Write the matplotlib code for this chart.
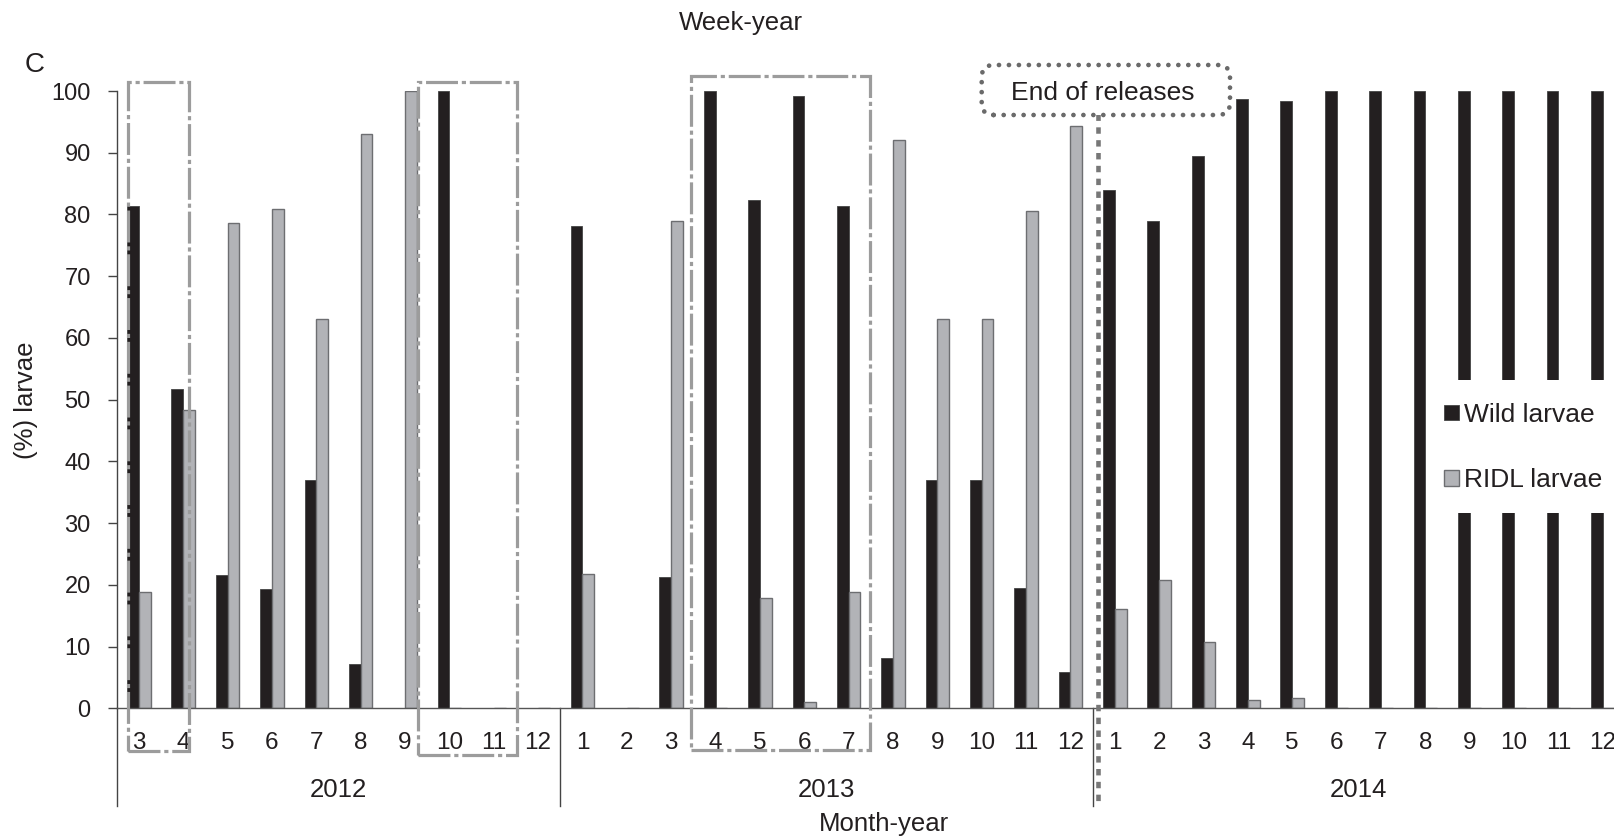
import matplotlib
matplotlib.use('Agg')
import matplotlib.pyplot as plt
import numpy as np
from matplotlib.patches import Rectangle, FancyBboxPatch

plt.rcParams['font.family'] = ['Liberation Sans', 'DejaVu Sans']

# --- data -------------------------------------------------------------
years = ['2012', '2013', '2014']
months = [
    [3, 4, 5, 6, 7, 8, 9, 10, 11, 12],
    [1, 2, 3, 4, 5, 6, 7, 8, 9, 10, 11, 12],
    [1, 2, 3, 4, 5, 6, 7, 8, 9, 10, 11, 12],
]
wild = [81.3, 51.7, 21.6, 19.3, 37.0, 7.1, 0, 100, 0, 0,
        78.2, 0, 21.2, 100, 82.3, 99.2, 81.3, 8.2, 37.0, 37.0, 19.5, 5.8,
        84.0, 79.0, 89.4, 98.7, 98.4, 100, 100, 100, 100, 100, 100, 100]
ridl = [18.8, 48.3, 78.6, 80.9, 63.0, 93.0, 100, 0, 0, 0,
        21.8, 0, 78.9, 0, 17.8, 1.1, 18.8, 92.0, 63.0, 63.0, 80.5, 94.4,
        16.1, 20.8, 10.8, 1.3, 1.7, 0, 0, 0, 0, 0, 0, 0]
# highlighted month ranges: (year, first month, last month)
highlights = [('2012', 3, 4), ('2012', 10, 11), ('2013', 4, 7)]
last_release = ('2013', 12)

# --- layout -----------------------------------------------------------
W, H = 1614, 840
fig = plt.figure(figsize=(W / 100, H / 100), dpi=100)
n = sum(len(m) for m in months)
ax = fig.add_axes([116.7 / W, 1 - 708.3 / H, n * 44.36 / W, 617.3 / H])

ink = '#231f20'
x = np.arange(n)
bw = 0.265
ax.bar(x - bw / 2, wild, bw, color=ink, edgecolor='#444444', lw=0.6,
       label='Wild larvae', zorder=2)
ax.bar(x + bw / 2, ridl, bw, color='#b2b3b7', edgecolor='#6d6e71', lw=1.0,
       label='RIDL larvae', zorder=2)

ax.set_xlim(-0.5, n - 0.5)
ax.set_ylim(0, 100)
for s in ('top', 'right'):
    ax.spines[s].set_visible(False)
ax.spines['left'].set_color('#444444')
ax.spines['left'].set_linewidth(1.0)
ax.spines['bottom'].set_color('#555555')
ax.spines['bottom'].set_linewidth(1.0)

ax.set_yticks(range(0, 101, 10))
ax.tick_params(axis='y', length=6.7, width=1.0, color='#444444', pad=12,
               labelsize=17, labelcolor=ink)
labels = [str(m) for grp in months for m in grp]
ax.set_xticks(x, labels)
ax.tick_params(axis='x', length=0, pad=17, labelsize=17.5, labelcolor=ink)

# year groups and separators
trans = ax.get_xaxis_transform()
bounds = np.concatenate([[0], np.cumsum([len(m) for m in months])]) - 0.5
for b in bounds[:-1]:
    ax.plot([b, b], [0, -0.158], transform=trans, clip_on=False,
            color='#444444', lw=1.0)
for yr, a, b in zip(years, bounds[:-1], bounds[1:]):
    ax.text((a + b) / 2, -0.1325, yr, transform=trans, ha='center',
            va='center', fontsize=18.5, color=ink)

# dashed highlight boxes
def idx(year, month):
    yi = years.index(year)
    return int(bounds[yi] + 0.5) + months[yi].index(month)

box_geom = [(-0.24, 0.13, 101.5, -6.9), (-0.71, 0.52, 101.5, -7.6),
            (-0.56, 0.48, 102.4, -6.7)]
for (yr, m0, m1), (dl, dr, top, bot) in zip(highlights, box_geom):
    left = idx(yr, m0) + dl
    right = idx(yr, m1) + dr
    ax.add_patch(Rectangle((left, bot), right - left, top - bot, fill=False,
                           ec='#9c9c9c', lw=2.3, ls=(0, (10, 1.2, 1.3, 1.2)),
                           clip_on=False, zorder=4))

# end of releases marker
xr = idx(*last_release) + 0.63
ax.plot([xr, xr], [96.2, -15.3], clip_on=False, color='#777777', lw=3.3,
        ls=(0, (1.4, 1.4)), zorder=5)
note = FancyBboxPatch((9.817, (H - 115) / 100), 2.483, 0.5,
                      boxstyle='round,pad=0,rounding_size=0.12',
                      transform=fig.dpi_scale_trans, fc='white', ec='#6a6a6a',
                      lw=3.4, ls=(0, (0.01, 2.1)), capstyle='round', zorder=6)
fig.patches.append(note)
fig.text(1103 / W, 1 - 92.7 / H, 'End of releases', ha='center', va='center',
         fontsize=19, color=ink, zorder=7)

# legend on a white patch that hides the bars behind it
ax.add_patch(Rectangle((1427 / W, 1 - 513 / H), (W - 1427) / W, 133 / H,
                       transform=fig.transFigure, clip_on=False,
                       fc='white', ec='none', zorder=7))
leg = ax.legend(loc='center left', bbox_to_anchor=(1444 / W, 1 - 447.5 / H),
                bbox_transform=fig.transFigure, borderaxespad=0, fontsize=19,
                frameon=False, borderpad=0, labelspacing=1.565,
                handlelength=0.55, handleheight=0.55, handletextpad=0.2)
leg.set_zorder(8)
for t in leg.get_texts():
    t.set_color(ink)

# axis titles
fig.text(741 / W, 1 - 22.6 / H, 'Week-year', ha='center', va='center',
         fontsize=18.5, color=ink)
fig.text(884 / W, 1 - 824 / H, 'Month-year', ha='center', va='center',
         fontsize=18.5, color=ink)
fig.text(26 / W, 1 - 400 / H, '(%) larvae', ha='center', va='center',
         rotation=90, fontsize=18.5, color=ink)
fig.text(35 / W, 1 - 65 / H, 'C', ha='center', va='center', fontsize=20,
         color=ink)

fig.savefig('out.png', dpi=100, facecolor='white')
